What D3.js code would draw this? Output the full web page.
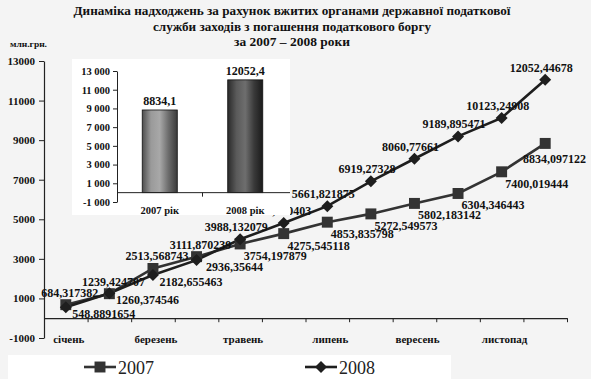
<!DOCTYPE html>
<html><head><meta charset="utf-8">
<script src="https://cdn.jsdelivr.net/npm/d3@7"></script>
<style>body{margin:0;background:#f4f4f4} svg{display:block}</style>
</head><body><svg id="c" width="591" height="379"></svg>
<script>
const titleLines = ["Динаміка надходжень за рахунок вжитих органами державної податкової",
                    "служби заходів з погашення податкового боргу",
                    "за 2007 – 2008 роки"];
const unitLabel = "млн.грн.";
const months = ["січень","лютий","березень","квітень","травень","червень","липень","серпень","вересень","жовтень","листопад","грудень"];
const values2007 = [684.317382, 1239.424707, 2513.568743, 3111.870239, 3754.197879, 4275.545118, 4853.835798, 5272.549573, 5802.183142, 6304.346443, 7400.019444, 8834.097122];
const values2008 = [548.8891654, 1260.374546, 2182.655463, 2936.35644, 3988.132079, 4810.880403, 5661.821875, 6919.27328, 8060.77661, 9189.895471, 10123.24908, 12052.44678];
const yTicks = [-1000, 1000, 3000, 5000, 7000, 9000, 11000, 13000];
const seriesNames = ["2007", "2008"];
const insetCats = ["2007 рік", "2008 рік"];
const insetValues = [8834.1, 12052.4];
const insetTicks = [-1000, 1000, 3000, 5000, 7000, 9000, 11000, 13000];

const W = 591, H = 379;
const SERIF = "'Liberation Serif','Times New Roman',serif";
const svg = d3.select("#c");
svg.append("rect").attr("width", W).attr("height", H).attr("fill", "#f4f4f4");

// Title
const titleY = [15, 31, 46];
const titleW = [437, 278, 116];
titleLines.forEach((t, i) => {
  svg.append("text").attr("x", 292).attr("y", titleY[i]).attr("text-anchor", "middle")
    .attr("font-family", SERIF).attr("font-weight", "bold").attr("font-size", 13)
    .attr("fill", "#111").attr("textLength", titleW[i]).attr("lengthAdjust", "spacingAndGlyphs").text(t);
});
svg.append("text").attr("x", 10).attr("y", 47).attr("font-family", SERIF).attr("font-weight", "bold")
  .attr("font-size", 8).attr("fill", "#111").attr("textLength", 37).attr("lengthAdjust", "spacingAndGlyphs").text(unitLabel);

// Main scales
const x = d3.scaleBand().domain(months).range([44, 567]);
const xEdge = d3.scaleLinear().domain([0, months.length]).range([44, 567]);
const y = d3.scaleLinear().domain([-1000, 13000]).range([338, 61]);
const cx = i => x(months[i]) + x.bandwidth() / 2;

const gy = svg.append("g").attr("transform", "translate(44,0)")
  .call(d3.axisLeft(y).tickValues(yTicks).tickSize(5).tickSizeOuter(0).tickFormat(d => String(d)));
gy.select(".domain").attr("stroke", "#222").attr("stroke-width", 1.2);
gy.selectAll(".tick line").attr("stroke", "#222");
gy.selectAll("text").attr("font-family", SERIF).attr("font-weight", "bold").attr("font-size", 11).attr("fill", "#111").attr("x", -9);

const gx = svg.append("g").attr("transform", `translate(0,${y(0)})`)
  .call(d3.axisBottom(xEdge).tickValues(d3.range(0, months.length + 1)).tickSize(4).tickSizeOuter(0).tickFormat(""));
gx.select(".domain").attr("stroke", "#222").attr("stroke-width", 1.2);
gx.selectAll(".tick line").attr("stroke", "#222");

svg.append("g").selectAll("text").data(months).join("text")
  .filter((d, i) => i % 2 === 0)
  .attr("x", (d) => x(d) + x.bandwidth() / 2 + 3).attr("y", 343).attr("text-anchor", "middle")
  .attr("font-family", SERIF).attr("font-weight", "bold").attr("font-size", 11).attr("fill", "#111")
  .text(d => d);

// Lines
const line = d3.line().x((d, i) => cx(i)).y(d => y(d));
svg.append("path").datum(values2007).attr("d", line).attr("fill", "none").attr("stroke", "#333").attr("stroke-width", 2.6);
svg.append("path").datum(values2008).attr("d", line).attr("fill", "none").attr("stroke", "#1e1e1e").attr("stroke-width", 2.6);

// Markers
svg.append("g").selectAll("path").data(values2007).join("path")
  .attr("d", d3.symbol(d3.symbolSquare, 120))
  .attr("transform", (d, i) => `translate(${cx(i)},${y(d)})`).attr("fill", "#333");
svg.append("g").selectAll("path").data(values2008).join("path")
  .attr("d", d3.symbol(d3.symbolSquare, 72))
  .attr("transform", (d, i) => `translate(${cx(i)},${y(d)}) rotate(45)`).attr("fill", "#1e1e1e");

// Data labels: before the crossover the 2007 label sits above, after it below-right; the 2008 labels the reverse.
const crossover = 4;
const fmtVal = v => String(v).replace(".", ",");
function labels(vals, aboveFirst, aboveDx, belowDx, belowDy) {
  const t = svg.append("g").selectAll("text").data(vals).join("text")
    .attr("x", (d, i) => {
      const above = (i < crossover) === aboveFirst;
      return cx(i) + (above ? aboveDx : belowDx);
    })
    .attr("y", (d, i) => {
      const above = (i < crossover) === aboveFirst;
      return y(d) + (above ? -8 : belowDy);
    })
    .attr("text-anchor", "middle").attr("font-family", SERIF).attr("font-weight", "bold")
    .attr("font-size", 12).attr("fill", "#111").text(fmtVal);
  // keep labels inside the picture
  t.each(function(d, i) {
    const w = this.getComputedTextLength();
    const xx = +this.getAttribute("x");
    if (xx + w / 2 > W - 5) {
      this.setAttribute("x", W - 5 - w / 2);
      this.setAttribute("y", y(d) + belowDy + 4);
    }
  });
}
labels(values2007, true, 4, 35, 16);
labels(values2008, false, -4, 38, 11);

// Inset
const inset = svg.append("g");
inset.append("rect").attr("x", 72).attr("y", 59).attr("width", 218).attr("height", 156).attr("fill", "#fff");
const ix = d3.scaleBand().domain(insetCats).range([117, 288]).paddingInner(0.59).paddingOuter(0.295);
const iy = d3.scaleLinear().domain([-1000, 13000]).range([202, 71]);
const defs = svg.append("defs");
const grads = [["g07", ["#4e4e4e", "#9a9a9a", "#a8a8a8", "#6c6c6c", "#3a3a3a"]],
               ["g08", ["#2a2a2a", "#5a5a5a", "#6e6e6e", "#3a3a3a", "#1a1a1a"]]];
grads.forEach(([id, cols]) => {
  const lg = defs.append("linearGradient").attr("id", id).attr("x1", 0).attr("x2", 1).attr("y1", 0).attr("y2", 0);
  cols.forEach((c, k) => lg.append("stop").attr("offset", k / (cols.length - 1)).attr("stop-color", c));
});
const locale = d3.formatLocale({decimal: ",", thousands: " ", grouping: [3], currency: ["", ""], minus: "-"});
const fmtTick = locale.format(",");
const giy = inset.append("g").attr("transform", "translate(117,0)")
  .call(d3.axisLeft(iy).tickValues(insetTicks).tickSize(4).tickSizeOuter(0).tickFormat(fmtTick));
giy.select(".domain").attr("stroke", "#222");
giy.selectAll(".tick line").attr("stroke", "#222");
giy.selectAll("text").attr("font-family", SERIF).attr("font-weight", "bold").attr("font-size", 10.5).attr("fill", "#111").attr("x", -7);
inset.selectAll("rect.bar").data(insetValues).join("rect").attr("class", "bar")
  .attr("x", (d, i) => ix(insetCats[i])).attr("width", ix.bandwidth())
  .attr("y", d => iy(d)).attr("height", d => iy(0) - iy(d))
  .attr("fill", (d, i) => `url(#${grads[i][0]})`).attr("stroke", "#111").attr("stroke-width", 0.8);
const gix = inset.append("g").attr("transform", `translate(0,${iy(0)})`);
gix.append("line").attr("x1", 117).attr("x2", 290).attr("stroke", "#222");
const midEdge = (ix(insetCats[0]) + ix.bandwidth() + ix(insetCats[1])) / 2;
gix.append("line").attr("x1", midEdge).attr("x2", midEdge).attr("y1", 0).attr("y2", 4).attr("stroke", "#222");
inset.selectAll("text.cat").data(insetCats).join("text").attr("class", "cat")
  .attr("x", d => ix(d) + ix.bandwidth() / 2).attr("y", 214).attr("text-anchor", "middle")
  .attr("font-family", SERIF).attr("font-weight", "bold").attr("font-size", 10.5).attr("fill", "#111").text(d => d);
inset.selectAll("text.val").data(insetValues).join("text").attr("class", "val")
  .attr("x", (d, i) => ix(insetCats[i]) + ix.bandwidth() / 2).attr("y", d => iy(d) - 5).attr("text-anchor", "middle")
  .attr("font-family", SERIF).attr("font-weight", "bold").attr("font-size", 12).attr("fill", "#111").text(fmtVal);

// Legend
const lg = svg.append("g");
lg.append("rect").attr("x", 8).attr("y", 355).attr("width", 443).attr("height", 24).attr("fill", "#fff");
const legendX = [84, 305];
seriesNames.forEach((s, i) => {
  const lx = legendX[i];
  lg.append("line").attr("x1", lx).attr("x2", lx + 32).attr("y1", 367).attr("y2", 367)
    .attr("stroke", i === 0 ? "#333" : "#1e1e1e").attr("stroke-width", 2.6);
  lg.append("path").attr("d", d3.symbol(d3.symbolSquare, i === 0 ? 120 : 72))
    .attr("transform", `translate(${lx + 16},367)` + (i === 1 ? " rotate(45)" : ""))
    .attr("fill", i === 0 ? "#333" : "#1e1e1e");
  lg.append("text").attr("x", lx + 34).attr("y", 374).attr("font-family", SERIF)
    .attr("font-size", 18).attr("fill", "#222").text(s);
});
</script></body></html>
